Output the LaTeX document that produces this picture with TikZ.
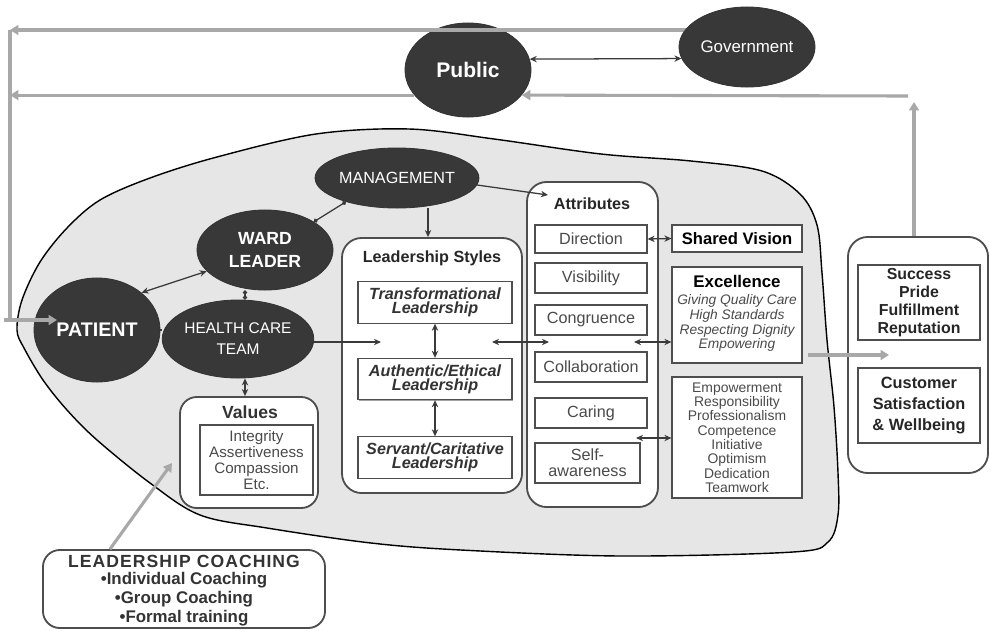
\documentclass[tikz,border=0pt]{standalone}
\usepackage{fontspec}
\setmainfont{Liberation Sans}
\usetikzlibrary{arrows.meta,shapes.geometric,shadows}
\definecolor{ell}{HTML}{383838}
\definecolor{blobc}{HTML}{E6E6E6}
\definecolor{glc}{HTML}{A8A8A8}
\definecolor{dlc}{HTML}{3A3A3A}
\definecolor{bord}{HTML}{4E4E4E}
\definecolor{txtg}{HTML}{4A4A4A}
\begin{document}
\begin{tikzpicture}[x=0.025cm,y=-0.025cm,
  oval/.style={ellipse, fill=ell, draw=black!80, line width=0.6pt, text=white, inner sep=0pt, align=center},
  rbox/.style={draw=bord, line width=1.3pt, fill=white, inner sep=0pt},
  ibox/.style={draw=bord, line width=0.8pt, fill=white, inner sep=1pt, align=center,
    drop shadow={shadow xshift=0.8pt, shadow yshift=-0.8pt, fill=black!45, opacity=0.8}},
  ttl/.style={font=\bfseries\fontsize{11.5}{12}\selectfont, text=black!85, inner sep=0pt},
  itm/.style={ibox, font=\fontsize{11.5}{11.3}\selectfont, text=txtg, minimum width=2.8cm, minimum height=0.75cm},
  lsb/.style={ibox, font=\bfseries\itshape\fontsize{11.5}{10}\selectfont, text=black!80, minimum width=3.85cm, minimum height=1.03cm},
  darr/.style={draw=dlc, line width=0.9pt, {Stealth[length=5pt,width=4.5pt]}-{Stealth[length=5pt,width=4.5pt]}},
  sarr/.style={draw=dlc, line width=0.9pt, -{Stealth[length=5pt,width=4.5pt]}},
  carr/.style={draw=dlc, line width=0.9pt, {Circle[length=3pt]}-{Circle[length=3pt]}},
  garr/.style={draw=glc, line width=2.2pt, -{Triangle[length=6pt,width=7pt]}},
  gplain/.style={draw=glc, line width=2.2pt}
]
\useasboundingbox (0,0) rectangle (990,632);
\fill[white] (0,0) rectangle (990,632);

% blob
\draw[fill=blobc, draw=black, line width=1pt] plot[smooth cycle, tension=0.55] coordinates {
 (17,330) (22,300) (40,262) (67,228) (100,200) (150,178) (217,157) (316,134) (409,129)
 (494,139) (601,154) (691,161) (762,171) (800,194) (817,225) (822,273) (827,340)
 (834,407) (838,473) (838,515) (828,542) (793,552) (621,556) (461,550) (371,543)
 (267,528) (200,515) (150,483) (97,440) (67,410) (43,380) (24,348)};

% coordinates
\coordinate (gx) at (740,30);
\coordinate (ltop) at (10,30);
\coordinate (lbot) at (10,320);
\coordinate (pout) at (4,320);
\coordinate (pin) at (57,320);
\coordinate (upx) at (914,102);
\coordinate (ucorner) at (908,96);
\coordinate (eo1) at (808,355);
\coordinate (eo2) at (889,355);
\coordinate (cx) at (110,0);
\coordinate (ct) at (172,463);
\coordinate (vx) at (245,0);
\coordinate (vx2) at (428,0);
\coordinate (attrin) at (548,195);
\coordinate (lsin) at (381,342);
\coordinate (lsa1) at (492,342);
\coordinate (lsa2) at (549,342);
\coordinate (ae1) at (634,342);
\coordinate (sl1) at (636,438);

% ellipses
\node[oval, minimum width=3.15cm, minimum height=2.35cm, font=\bfseries\fontsize{15}{16}\selectfont] (public) at (468,70) {Public};
\draw[garr] (gx) -- (ltop);
\node[oval, minimum width=3.4cm, minimum height=2.0cm, font=\fontsize{12}{14}\selectfont] (gov) at (747,47) {Government};
\node[oval, minimum width=3.25cm, minimum height=1.5cm, font=\fontsize{11.5}{13}\selectfont] (mgmt) at (397,178) {MANAGEMENT};
\node[oval, minimum width=3.4cm, minimum height=2.0cm, font=\bfseries\fontsize{12.5}{16}\selectfont] (ward) at (265,250) {WARD\\LEADER};
\node[oval, minimum width=3.15cm, minimum height=2.6cm, font=\bfseries\fontsize{14}{16}\selectfont] (patient) at (97,330) {PATIENT};
\node[oval, minimum width=3.4cm, minimum height=1.95cm, font=\fontsize{11}{15}\selectfont] (hct) at (238,339) {HEALTH CARE\\TEAM};

% leadership styles
\node[rbox, rounded corners=14pt, minimum width=4.5cm, minimum height=6.375cm] (ls) at (432,365.5) {};
\node[ttl] (lst) at (432,258) {Leadership Styles};
\node[lsb] (tr) at (435,302.5) {Transformational\\Leadership};
\node[lsb] (au) at (435,379) {Authentic/Ethical\\Leadership};
\node[lsb] (se) at (435,457.5) {Servant/Caritative\\Leadership};

% attributes
\node[rbox, rounded corners=14pt, minimum width=3.275cm, minimum height=8.125cm] (attr) at (592.5,344.5) {};
\node[ttl] (attrt) at (592,204) {Attributes};
\node[itm, minimum height=0.7cm] (dir) at (591,239) {Direction};
\node[itm] (vis) at (591,278) {Visibility};
\node[itm] (con) at (591,320) {Congruence};
\node[itm] (col) at (591,367) {Collaboration};
\node[itm] (car) at (591,413) {Caring};
\node[itm, minimum width=2.625cm, minimum height=1.0cm] (saw) at (587.5,463) {Self-\\awareness};

% right column
\node[ibox, minimum width=3.25cm, minimum height=0.675cm, font=\bfseries\fontsize{11.8}{12}\selectfont] (sv) at (737,238.5) {Shared Vision};
\node[ibox, minimum width=3.25cm, minimum height=2.4cm] (exc) at (737,315) {};
\node[inner sep=0pt, font=\bfseries\fontsize{12}{13}\selectfont] (exct) at (737,281) {Excellence};
\node[inner sep=0pt, align=center, text=txtg, font=\itshape\fontsize{9.8}{10.6}\selectfont] (excl) at (737,323) {Giving Quality Care\\High Standards\\Respecting Dignity\\Empowering};
\node[ibox, minimum width=3.25cm, minimum height=3.025cm, text=txtg, font=\fontsize{9.9}{10.2}\selectfont] (lst2) at (737,437.5) {Empowerment\\Responsibility\\Professionalism\\Competence\\Initiative\\Optimism\\Dedication\\Teamwork};

% outcomes
\node[rbox, rounded corners=14pt, minimum width=3.5cm, minimum height=5.9cm] (outc) at (918,355) {};
\node[ibox, minimum width=3.05cm, minimum height=1.875cm, font=\bfseries\fontsize{11.3}{12.8}\selectfont, text=black!85] (succ) at (919,302.5) {Success\\Pride\\Fulfillment\\Reputation};
\node[ibox, minimum width=3.05cm, minimum height=1.875cm, font=\bfseries\fontsize{11.6}{15}\selectfont, text=black!85] (cust) at (919,405.5) {Customer\\Satisfaction\\\& Wellbeing};

% values
\node[rbox, rounded corners=12pt, minimum width=3.45cm, minimum height=2.775cm] (val) at (249,452.5) {};
\node[inner sep=0pt, font=\bfseries\fontsize{12.5}{13}\selectfont, text=black!80] (valt) at (250,412) {Values};
\node[ibox, minimum width=2.825cm, minimum height=1.75cm, text=txtg, font=\fontsize{10.8}{11.5}\selectfont] (vin) at (256.5,460) {Integrity\\Assertiveness\\Compassion\\Etc.};

% coaching
\node[rbox, rounded corners=12pt, minimum width=7.05cm, minimum height=1.95cm] (coach) at (184,589) {};
\node[inner sep=0pt, font=\bfseries\fontsize{12.5}{14}\selectfont\addfontfeatures{LetterSpace=6}, text=black!80] (coacht) at (184,561) {LEADERSHIP COACHING};
\node[inner sep=0pt, align=center, font=\bfseries\fontsize{12}{13.6}\selectfont, text=black!80] (coachl) at (184,599) {•Individual Coaching\\•Group Coaching\\•Formal training};

% gray connectors
\draw[garr] (public.-155) -- (public.-155 -| ltop);
\draw[gplain] (ltop) -- (lbot);
\draw[garr] (pout) -- (pin);
\draw[garr] (outc.north -| upx) -- (upx);
\draw[garr] (ucorner) -- (public.-25);
\draw[garr] (eo1) -- (eo2);
\draw[garr] (coach.north -| cx) -- (ct);

% dark connectors
\draw[darr] (public.10) -- (gov.190);
\draw[darr] (ward.200) -- (patient.40);
\draw[carr] (ward.south -| vx) -- (hct.north -| vx);
\draw[dlc, line width=0.9pt] (patient.east) -- (patient.east -| hct.west);
\draw[sarr] (hct.east |- lsin) -- (lsin);
\draw[darr] (hct.south -| vx) -- (val.north -| vx);
\draw[carr] (mgmt.205) -- (ward.30);
\draw[sarr] (mgmt.south -| vx2) -- (ls.north -| vx2);
\draw[sarr] (mgmt.-5) -- (attrin);
\draw[darr] (tr.south) -- (au.north);
\draw[darr] (au.south) -- (se.north);
\draw[darr] (lsa1) -- (lsa2);
\draw[darr] (ae1) -- (exc.west |- ae1);
\draw[darr] (dir.east) -- (sv.west);
\draw[darr] (sl1) -- (lst2.west |- sl1);
\end{tikzpicture}
\end{document}
